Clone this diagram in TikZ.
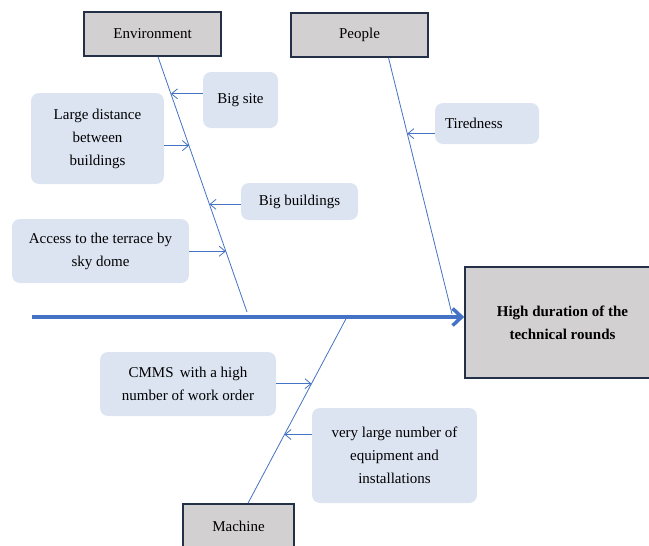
\documentclass[tikz,border=0pt]{standalone}
\usepackage{fontspec}
\setmainfont{Liberation Serif}
\usepackage{tikz}
\usetikzlibrary{arrows.meta}
\definecolor{boneblue}{RGB}{68,114,196}
\definecolor{causefill}{RGB}{220,228,242}
\definecolor{catfill}{RGB}{210,208,208}
\definecolor{catline}{RGB}{36,48,72}

\begin{document}
\begin{tikzpicture}
				[x=1pt,y=-1pt,
				every node/.style={font=\fontsize{15}{23}\selectfont,align=center,inner sep=2pt},
				cat/.style={rectangle,fill=catfill,draw=catline,line width=1.6pt,minimum width=137pt,minimum height=44pt},
				cause/.style={rectangle,rounded corners=8pt,fill=causefill},
				bone/.style={draw=boneblue,line width=0.8pt},
				link/.style={draw=boneblue,line width=0.8pt,-{Straight Barb[length=6pt,width=10pt]}},
				spine/.style={draw=boneblue,line width=3.5pt,-{Straight Barb[length=9pt,width=17pt]}}]
				\clip (0,0) rectangle (649,546);
				\useasboundingbox (0,0) rectangle (649,546);
				
				\node[cat] (env) at (152.5,34) {Environment};
				\node[cat] (ppl) at (359.5,35) {People};
				\node[cat,minimum width=111pt] (mach) at (238.5,526) {Machine};
				\node[cat,minimum width=195pt,minimum height=111pt] (eff) at (562.5,322.5) {\textbf{High duration of the}\\\textbf{technical rounds}};
				
				\node[cause,minimum width=75pt,minimum height=56pt] (site) at (240.5,100) {Big site};
				\node[cause,minimum width=133pt,minimum height=91pt] (dist) at (97.5,138.5) {Large distance\\between\\buildings};
				\node[cause,minimum width=117pt,minimum height=37pt] (bldg) at (299.5,201.5) {Big buildings};
				\node[cause,minimum width=177pt,minimum height=64pt] (dome) at (100.5,251) {Access to the terrace by\\sky dome};
				\node[cause,text width=84pt,align=left,inner xsep=10pt,minimum height=41pt] (tired) at (487,123.5) {Tiredness};
				\node[cause,minimum width=176pt,minimum height=64pt] (cmms) at (188,384) {CMMS\, with a high\\number of work order};
				\node[cause,minimum width=165pt,minimum height=95pt] (equip) at (394.5,455.5) {very large number of\\equipment and\\installations};
				
				\coordinate (tail) at (32,317);
				\coordinate (envend) at (247,312);
				\coordinate (pplend) at (452,314);
				\coordinate (machend) at (348,315);
				
				\draw[spine] (tail) -- (tail -| eff.west);
				\draw[bone] ([xshift=5.5pt]env.south) -- (envend)
					coordinate[pos=.145] (e1) coordinate[pos=.348] (e2)
					coordinate[pos=.578] (e3) coordinate[pos=.762] (e4);
				\draw[bone] ([xshift=29pt]ppl.south) -- (pplend) coordinate[pos=.296] (p1);
				\draw[bone] ([xshift=9.5pt]mach.north) -- (machend)
					coordinate[pos=.635] (m1) coordinate[pos=.365] (m2);
				
				\foreach \from/\side/\to in {site/west/e1,dist/east/e2,bldg/west/e3,dome/east/e4,tired/west/p1,cmms/east/m1,equip/west/m2}
				\draw[link] (\from.\side |- \to) -- (\to);
				\end{tikzpicture}
\end{document}
